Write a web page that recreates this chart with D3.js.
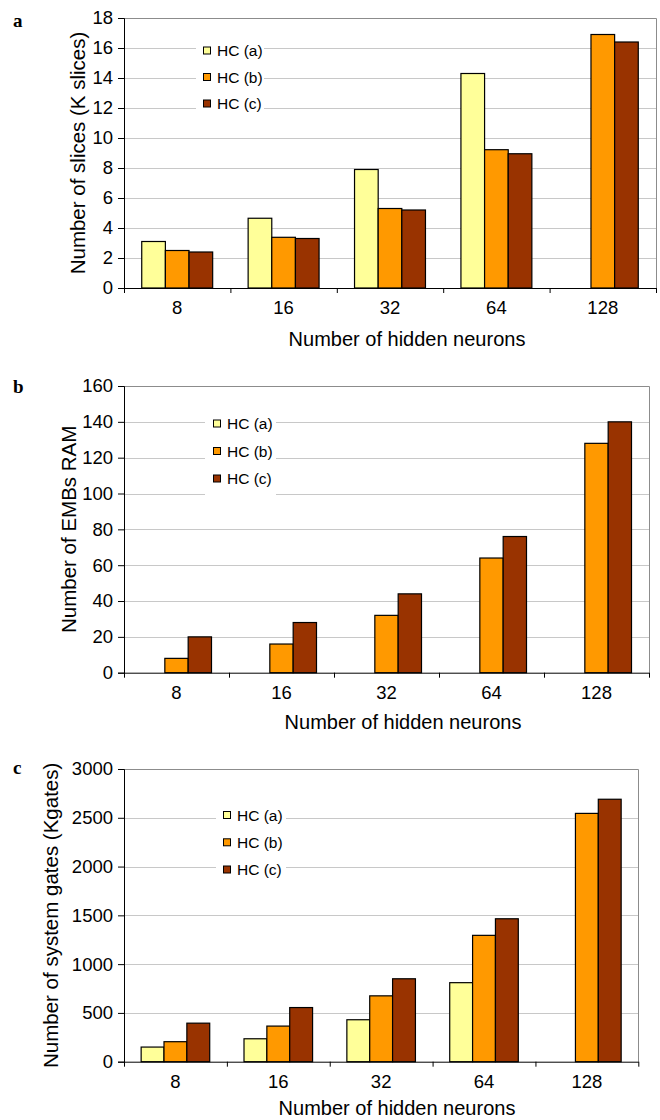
<!DOCTYPE html>
<html>
<head>
<meta charset="utf-8">
<script src="https://cdn.jsdelivr.net/npm/d3@7"></script>
<style>
  body { margin: 0; background: #fff; }
  text { font-family: "Liberation Sans", Arial, sans-serif; fill: #000; }
</style>
</head>
<body>
<div id="chart"></div>
<script>
// data
var categories = ["8", "16", "32", "64", "128"];
var seriesNames = ["HC (a)", "HC (b)", "HC (c)"];
var colors = ["#FFFF99", "#FF9900", "#993300"];

var slicesA = [3.1, 4.65, 7.9, 14.3, null];
var slicesB = [2.5, 3.38, 5.3, 9.22, 16.9];
var slicesC = [2.4, 3.3, 5.2, 8.95, 16.4];
var slicesTicks = [0, 2, 4, 6, 8, 10, 12, 14, 16, 18];

var embA = [0, 0, 0, 0, 0];
var embB = [8, 16, 32, 64, 128];
var embC = [20, 28, 44, 76, 140];
var embTicks = [0, 20, 40, 60, 80, 100, 120, 140, 160];

var gatesA = [150, 235, 430, 810, null];
var gatesB = [205, 365, 675, 1295, 2545];
var gatesC = [395, 555, 850, 1465, 2690];
var gatesTicks = [0, 500, 1000, 1500, 2000, 2500, 3000];

var xTitle = "Number of hidden neurons";

var W = 660, H = 1120;
var svg = d3.select("#chart").append("svg")
  .attr("width", W)
  .attr("height", H);

var panels = [
  {label: "a", series: [slicesA, slicesB, slicesC], ticks: slicesTicks,
   yTitle: "Number of slices (K slices)",
   left: 124, right: 656, top: 18, bottom: 288,
   labelY: 27, yTitleX: 85, xTitleX: 407, tickY: 314, titleY: 346,
   legX: 203, legY: [50.5, 77, 103.5], legBox: [196, 38, 68, 75]},
  {label: "b", series: [embA, embB, embC], ticks: embTicks,
   yTitle: "Number of EMBs RAM",
   left: 124, right: 649, top: 386, bottom: 672.7,
   labelY: 393, yTitleX: 76, xTitleX: 403, tickY: 699, titleY: 729,
   legX: 213, legY: [423.5, 451, 478.5], legBox: [205, 408, 71, 88]},
  {label: "c", series: [gatesA, gatesB, gatesC], ticks: gatesTicks,
   yTitle: "Number of system gates (Kgates)",
   left: 124, right: 638.3, top: 769, bottom: 1061.7,
   labelY: 774, yTitleX: 58, xTitleX: 397, tickY: 1088, titleY: 1115,
   legX: 223, legY: [815, 842.3, 869.5], legBox: [216, 800, 70, 84]}
];

panels.forEach(function(p) {
  var g = svg.append("g");
  var yMax = p.ticks[p.ticks.length - 1];

  var y = d3.scaleLinear().domain([0, yMax]).range([p.bottom, p.top]);
  var x0 = d3.scaleBand().domain(categories).range([p.left, p.right])
    .paddingInner(1/3).paddingOuter(1/6);
  var x1 = d3.scaleBand().domain(seriesNames).range([0, x0.bandwidth()]);
  var xEdge = d3.scaleLinear().domain([0, categories.length]).range([p.left, p.right]);

  // gridlines
  g.append("g").selectAll("line").data(p.ticks.slice(1, -1))
    .enter().append("line")
    .attr("x1", p.left).attr("x2", p.right)
    .attr("y1", function(d) { return Math.round(y(d)) + 0.5; })
    .attr("y2", function(d) { return Math.round(y(d)) + 0.5; })
    .attr("stroke", "#c8c8c8")
    .attr("stroke-width", 1);

  // plot frame top / right
  g.append("path")
    .attr("d", "M" + p.left + "," + (Math.round(p.top) + 0.5) + "H" + (Math.round(p.right) + 0.5) + "V" + p.bottom)
    .attr("fill", "none")
    .attr("stroke", "#8c8c8c")
    .attr("stroke-width", 1);

  // bars
  var groups = g.append("g").selectAll("g").data(categories)
    .enter().append("g")
    .attr("transform", function(d) { return "translate(" + x0(d) + ",0)"; });

  groups.selectAll("rect")
    .data(function(d, i) {
      return p.series.map(function(s, k) { return {name: seriesNames[k], value: s[i], k: k}; })
        .filter(function(e) { return e.value; });
    })
    .enter().append("rect")
    .attr("x", function(d) { return x1(d.name); })
    .attr("width", x1.bandwidth())
    .attr("y", function(d) { return y(d.value); })
    .attr("height", function(d) { return p.bottom - y(d.value); })
    .attr("fill", function(d) { return colors[d.k]; })
    .attr("stroke", "#000")
    .attr("stroke-width", 1.2);

  // y axis
  var yAxis = g.append("g")
    .attr("transform", "translate(" + p.left + ",0)")
    .call(d3.axisLeft(y).tickValues(p.ticks).tickFormat(d3.format("d"))
      .tickSize(6).tickPadding(5));
  yAxis.select(".domain").attr("stroke", "#000");
  yAxis.selectAll("text")
    .style("font-family", "'Liberation Sans', Arial, sans-serif")
    .style("font-size", "18.5px");

  // x axis (ticks between categories)
  var xAxis = g.append("g")
    .attr("transform", "translate(0," + p.bottom + ")")
    .call(d3.axisBottom(xEdge).tickValues(d3.range(categories.length + 1))
      .tickFormat("").tickSize(5).tickSizeOuter(0));
  xAxis.select(".domain").attr("stroke", "#000");

  g.append("g").selectAll("text").data(categories)
    .enter().append("text")
    .attr("x", function(d) { return x0(d) + x0.bandwidth() / 2; })
    .attr("y", p.tickY)
    .attr("text-anchor", "middle")
    .style("font-size", "18.5px")
    .text(function(d) { return d; });

  // titles
  g.append("text")
    .attr("x", p.xTitleX)
    .attr("y", p.titleY)
    .attr("text-anchor", "middle")
    .style("font-size", "20px")
    .text(xTitle);

  g.append("text")
    .attr("transform", "translate(" + p.yTitleX + "," + ((p.top + p.bottom) / 2) + ") rotate(-90)")
    .attr("text-anchor", "middle")
    .style("font-size", "20.5px")
    .text(p.yTitle);

  g.append("text")
    .attr("x", 13)
    .attr("y", p.labelY)
    .style("font-family", "'Liberation Serif', 'Times New Roman', serif")
    .style("font-weight", "bold")
    .style("font-size", "19px")
    .text(p.label);

  // legend
  var leg = g.append("g");
  leg.append("rect")
    .attr("x", p.legBox[0]).attr("y", p.legBox[1])
    .attr("width", p.legBox[2]).attr("height", p.legBox[3])
    .attr("fill", "#fff");
  var items = leg.selectAll("g.item").data(seriesNames)
    .enter().append("g")
    .attr("class", "item")
    .attr("transform", function(d, i) { return "translate(" + p.legX + "," + p.legY[i] + ")"; });
  items.append("rect")
    .attr("x", 0.5).attr("y", -3.5)
    .attr("width", 7).attr("height", 7)
    .attr("fill", function(d, i) { return colors[i]; })
    .attr("stroke", "#000")
    .attr("stroke-width", 1);
  items.append("text")
    .attr("x", 14)
    .attr("y", 5.5)
    .style("font-size", "15.5px")
    .text(function(d) { return d; });
});
</script>
</body>
</html>
